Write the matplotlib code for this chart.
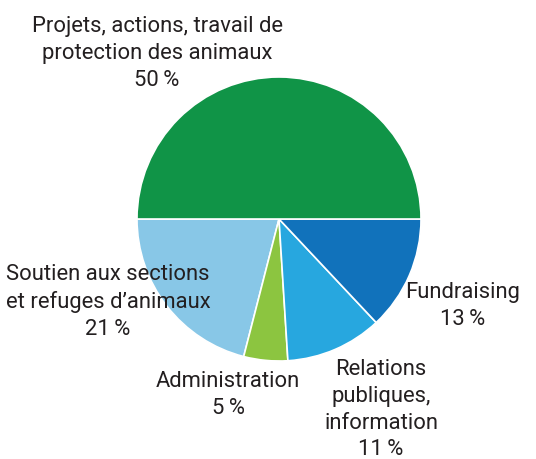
import matplotlib.pyplot as plt

# Données
categories = ['Soutien aux sections\net refuges d\u2019animaux', 'Administration',
              'Relations\npubliques,\ninformation', 'Fundraising',
              'Projets, actions, travail de\nprotection des animaux']
valeurs = [21, 5, 11, 13, 50]
couleurs = ['#88c7e7', '#8cc540', '#27a7df', '#1172bb', '#109447']

plt.rcParams['font.family'] = ['Roboto', 'DejaVu Sans']

W, H = 536, 459
fig = plt.figure(figsize=(W / 100, H / 100), dpi=100)

# Axe du camembert : centre (279, 219), rayon 142 px
cx, cy, r = 279, 219, 142
ax = fig.add_axes([(cx - r) / W, (H - cy - r) / H, 2 * r / W, 2 * r / H])
ax.pie(valeurs, colors=couleurs, startangle=180, counterclock=True,
       wedgeprops=dict(edgecolor='white', linewidth=1.2))
ax.set_xlim(-1, 1)
ax.set_ylim(-1, 1)
ax.set_aspect('auto')
ax.axis('off')

# Étiquettes (centre x, y de la première ligne en px)
positions = [(108, 273), (228, 380), (381, 368), (463, 291), (157, 25)]
for cat, val, (px, py) in zip(categories, valeurs, positions):
    texte = cat + '\n' + f'{val}\u2009%'
    fig.text(px / W, 1 - (py - 9) / H, texte, ha='center', va='top',
             fontsize=15.8, color='#231f20', linespacing=1.36)

fig.savefig('out.png', dpi=100)
